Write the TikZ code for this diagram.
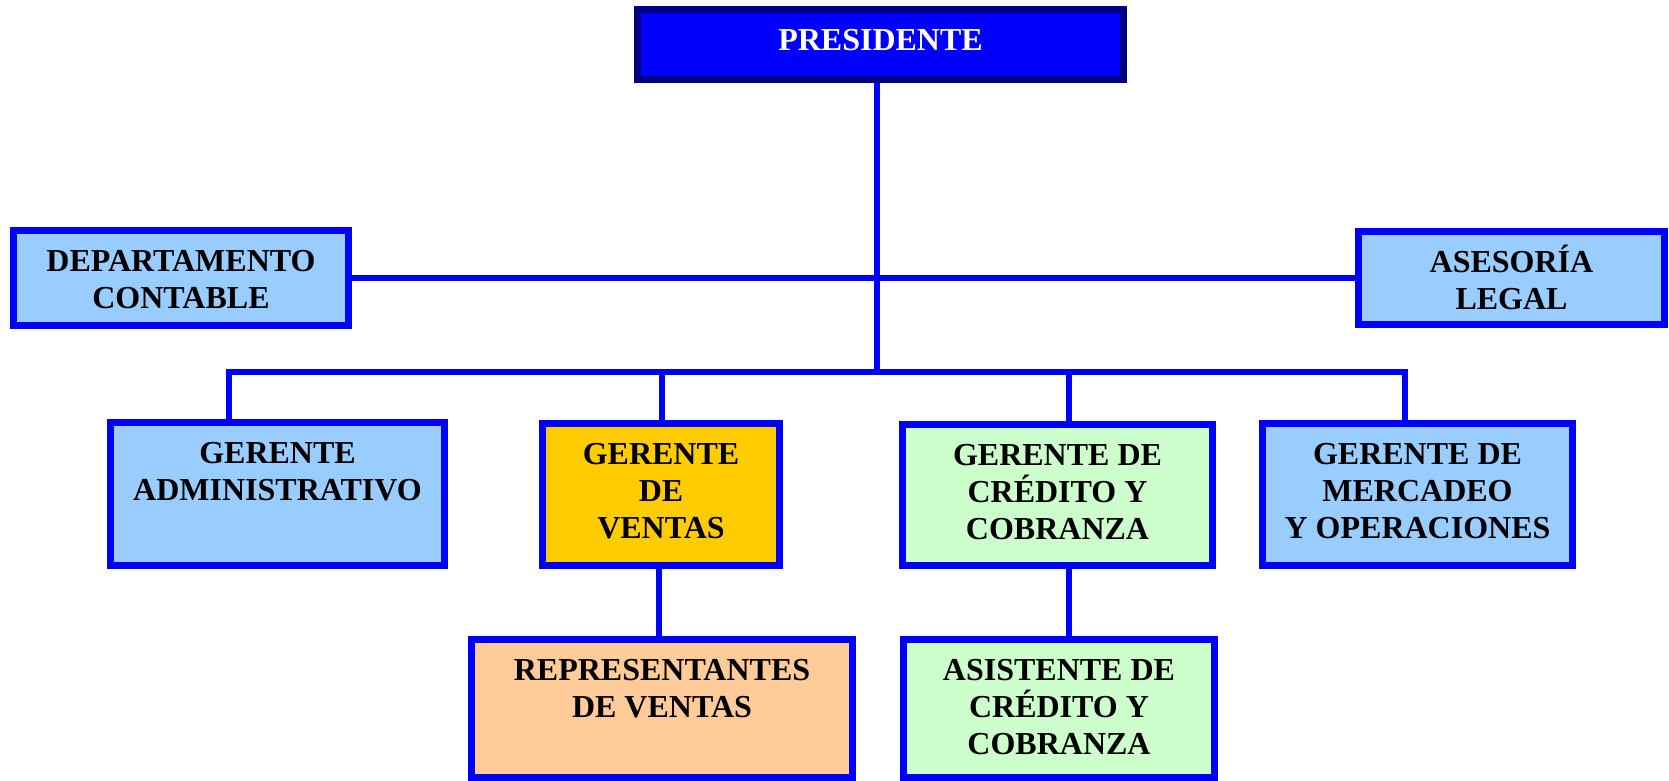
\documentclass[tikz,border=0pt]{standalone}
\usepackage{fontspec}
\setmainfont{Liberation Serif}
\usetikzlibrary{positioning}

\definecolor{azul}{HTML}{0000FF}
\definecolor{marino}{HTML}{000080}
\definecolor{celeste}{HTML}{99CCFF}
\definecolor{oro}{HTML}{FFCC00}
\definecolor{verdeclaro}{HTML}{CCFFCC}
\definecolor{durazno}{HTML}{FFCC99}

\begin{document}
\begin{tikzpicture}[x=1pt,y=-1pt,
caja/.style={
	rectangle,inner sep=0pt,
	draw=azul,line width=7pt},
jefe/.style={
	rectangle,inner sep=0pt,
	draw=marino,line width=6.5pt,fill=azul},
texto/.style={
	inner sep=0pt,align=center,
	font=\bfseries\fontsize{32}{37}\selectfont},
linea/.style={draw=azul,line width=6.5pt},
]
\useasboundingbox (0,0) rectangle (1669,781);
% cajas
\node[jefe,minimum width=486pt,minimum height=70pt] (pres) at (880.5,44.5) {};
\node[caja,fill=celeste,minimum width=335pt,minimum height=95pt] (cont) at (181,278) {};
\node[caja,fill=celeste,minimum width=306pt,minimum height=93pt] (ases) at (1511.5,278) {};
\node[caja,fill=celeste,minimum width=334pt,minimum height=143pt] (adm) at (277.5,494) {};
\node[caja,fill=oro,minimum width=237pt,minimum height=142pt] (vent) at (661,494.5) {};
\node[caja,fill=verdeclaro,minimum width=310pt,minimum height=141pt] (cred) at (1057.5,495) {};
\node[caja,fill=celeste,minimum width=310pt,minimum height=142pt] (merc) at (1417.5,494.5) {};
\node[caja,fill=durazno,minimum width=381pt,minimum height=138pt] (repr) at (662,708.5) {};
\node[caja,fill=verdeclaro,minimum width=311pt,minimum height=138pt] (asis) at (1059,708.5) {};
% textos
\node[texto,white,below=23pt of pres.north] (pres-t) {PRESIDENTE};
\node[texto,below=23pt of cont.north] (cont-t) {DEPARTAMENTO\\CONTABLE};
\node[texto,below=23pt of ases.north] (ases-t) {ASESOR\smash{Í}A\\LEGAL};
\node[texto,below=23pt of adm.north] (adm-t) {GERENTE\\ADMINISTRATIVO};
\node[texto,below=23pt of vent.north] (vent-t) {GERENTE\\DE\\VENTAS};
\node[texto,below=23pt of cred.north] (cred-t) {GERENTE DE\\CRÉDITO Y\\COBRANZA};
\node[texto,below=23pt of merc.north] (merc-t) {GERENTE DE\\MERCADEO\\Y OPERACIONES};
\node[texto,below=23pt of repr.north] (repr-t) {REPRESENTANTES\\DE VENTAS};
\node[texto,below=23pt of asis.north] (asis-t) {ASISTENTE DE\\CRÉDITO Y\\COBRANZA};
% conectores
\coordinate (eje) at (877,372);
\coordinate (b1) at (229,372);
\coordinate (b2) at (662,372);
\coordinate (b3) at (1069,372);
\coordinate (b4) at (1405,372);
\draw[linea] (pres.south -| eje) -- (eje);
\draw[linea] (cont.east) -- (ases.west);
\draw[linea] (b1 |- adm.north) -- (b1) -- (b4) -- (b4 |- merc.north);
\draw[linea] (b2) -- (b2 |- vent.north);
\draw[linea] (b3) -- (b3 |- cred.north);
\draw[linea] (vent.south -| 659,0) -- (repr.north -| 659,0);
\draw[linea] (cred.south -| b3) -- (asis.north -| b3);
\end{tikzpicture}
\end{document}
